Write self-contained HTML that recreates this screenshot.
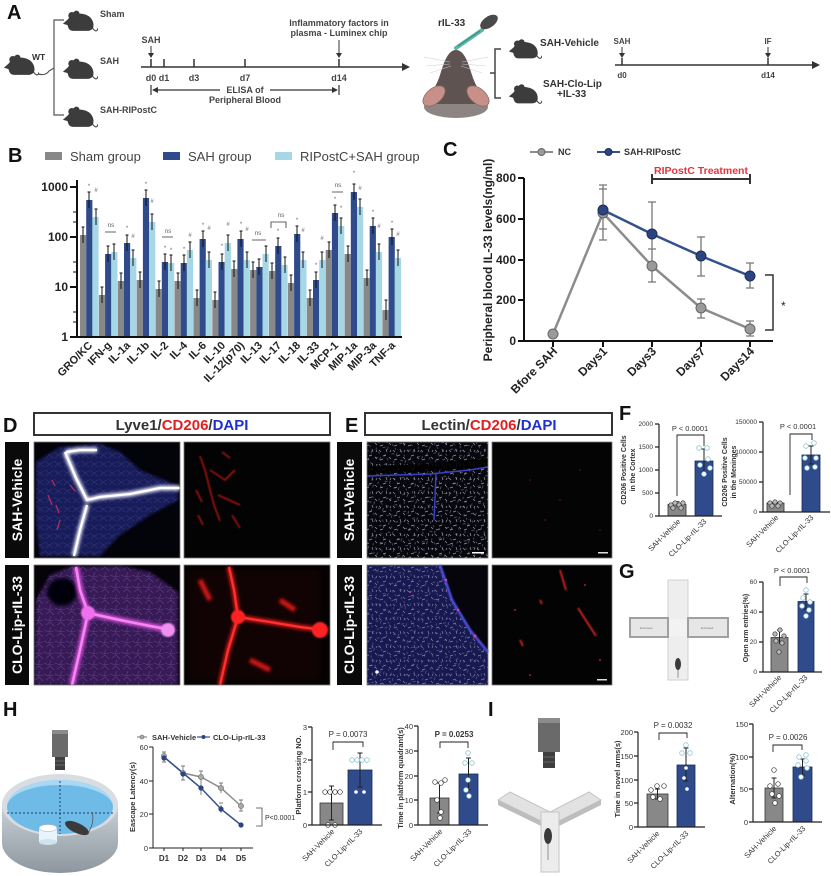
<!DOCTYPE html>
<html><head><meta charset="utf-8">
<style>
html,body{margin:0;padding:0;background:#fff;}
svg{display:block;font-family:"Liberation Sans",Arial,sans-serif;}
</style></head><body>
<svg width="831" height="876" viewBox="0 0 831 876" xmlns="http://www.w3.org/2000/svg">
<defs>
 <symbol id="mouse" viewBox="0 0 40 26">
  <path d="M6,15 C6,7 14,4 22,5 C30,6 35,11 35,18 C35,22 32,24 28,24 L12,24 C8,24 6,20 6,15Z" fill="#3c3c3c"/>
  <circle cx="11" cy="7" r="4" fill="#3c3c3c"/>
  <circle cx="16" cy="5" r="3.5" fill="#3c3c3c"/>
  <path d="M1,16 L9,9 L11,19Z" fill="#3c3c3c"/>
  <path d="M34,21 C37,25 39,25 40,21" stroke="#3c3c3c" fill="none" stroke-width="1.2"/>
 </symbol>
 <filter id="bl1" x="-20%" y="-20%" width="140%" height="140%"><feGaussianBlur stdDeviation="0.7"/></filter>
 <filter id="bl2" x="-50%" y="-50%" width="200%" height="200%"><feGaussianBlur stdDeviation="1.6"/></filter>
 <filter id="bl4" x="-50%" y="-50%" width="200%" height="200%"><feGaussianBlur stdDeviation="4"/></filter>
 <pattern id="spk" width="14" height="14" patternUnits="userSpaceOnUse">
  <path d="M1,2l2,2M8,1l1,3M5,8l3,-1M11,9l2,2M2,12l3,-1M12,4l1,-2" stroke="#c8c8dc" stroke-width="0.7" fill="none"/>
 </pattern>
 <pattern id="spk2" width="11" height="13" patternUnits="userSpaceOnUse" patternTransform="rotate(37)">
  <path d="M2,3l2,1M7,6l1,3M3,10l2,-2M9,1l1,2" stroke="#b8b8d8" stroke-width="0.6" fill="none"/>
 </pattern>
 <pattern id="fib" width="11" height="11" patternUnits="userSpaceOnUse">
  <path d="M0,3l5,2l5,-1M2,9l4,-3l4,4M7,0l-2,5" stroke="#8a70c0" stroke-width="0.6" fill="none"/>
 </pattern>
 <pattern id="fib2" width="9" height="9" patternUnits="userSpaceOnUse">
  <path d="M0,2l4,3l4,-2M1,8l3,-3l4,3" stroke="#5a58b8" stroke-width="0.6" fill="none"/>
 </pattern>
 <linearGradient id="wall" x1="0" y1="0" x2="0" y2="1"><stop offset="0" stop-color="#c9d0d6"/><stop offset="1" stop-color="#8d969e"/></linearGradient>
 <clipPath id="cD1"><rect x="34" y="442" width="146" height="116"/></clipPath>
 <clipPath id="cD2"><rect x="184" y="442" width="146" height="116"/></clipPath>
 <clipPath id="cD3"><rect x="34" y="565" width="146" height="120"/></clipPath>
 <clipPath id="cD4"><rect x="184" y="565" width="146" height="120"/></clipPath>
 <clipPath id="cE1"><rect x="367" y="442" width="121" height="116"/></clipPath>
 <clipPath id="cE2"><rect x="492" y="442" width="120" height="116"/></clipPath>
 <clipPath id="cE3"><polygon points="367,565 440,565 452,600 470,630 488,652 488,685 367,685"/></clipPath>
 <clipPath id="cE4"><rect x="492" y="565" width="120" height="120"/></clipPath>
</defs>

<!-- ================= PANEL A ================= -->
<text x="7" y="19" font-size="20" font-weight="bold" fill="#111">A</text>
<use href="#mouse" x="3" y="52" width="36" height="26"/>
<text x="32" y="60" font-size="8.5" font-weight="bold" fill="#333">WT</text>
<path d="M64,20H54V115H64M38,74Q46,76 49,71L54,68" stroke="#555" fill="none" stroke-width="1.2"/>
<use href="#mouse" x="62" y="9" width="36" height="24"/>
<use href="#mouse" x="62" y="57" width="36" height="24"/>
<use href="#mouse" x="62" y="105" width="36" height="24"/>
<g font-size="9" font-weight="bold" fill="#444">
 <text x="100" y="17">Sham</text>
 <text x="100" y="64">SAH</text>
 <text x="100" y="113">SAH-RIPostC</text>
</g>
<g stroke="#333" stroke-width="1.5" fill="none">
 <path d="M141,67H403"/>
 <path d="M151,59V67M164,59V67M194,59V67M245,59V67M339,59V67"/>
 <path d="M151,46V55M339,40V55" stroke-width="1"/>
 <path d="M151,85V95M339,85V95M156,90H334" stroke-width="1.2"/>
</g>
<polygon points="402,63 410,67 402,71" fill="#333"/>
<polygon points="148,53 151,58 154,53" fill="#333"/>
<polygon points="336,53 339,58 342,53" fill="#333"/>
<polygon points="152,90 158,87 158,93" fill="#333"/>
<polygon points="338,90 332,87 332,93" fill="#333"/>
<rect x="220" y="84" width="50" height="10" fill="#fff"/>
<g font-size="9" font-weight="bold" fill="#444" text-anchor="middle">
 <text x="151" y="43">SAH</text>
 <text x="339" y="26">Inflammatory factors in</text>
 <text x="339" y="36">plasma - Luminex chip</text>
 <text x="151" y="81">d0</text>
 <text x="164" y="81">d1</text>
 <text x="194" y="81">d3</text>
 <text x="245" y="81">d7</text>
 <text x="339" y="81">d14</text>
 <text x="245" y="93">ELISA of</text>
 <text x="245" y="103">Peripheral Blood</text>
</g>
<!-- rIL-33 head -->
<text x="438" y="26" font-size="10" font-weight="bold" fill="#333">rIL-33</text>
<line x1="456" y1="48" x2="482" y2="30" stroke="#5db5aa" stroke-width="4" stroke-linecap="round"/>
<line x1="458" y1="46" x2="480" y2="31" stroke="#2f8c84" stroke-width="1"/>
<ellipse cx="489" cy="22" rx="10" ry="5.5" transform="rotate(-35 489 22)" fill="#4a4a4a"/>
<ellipse cx="456" cy="107" rx="32" ry="11" fill="#8d8581"/>
<path d="M456,50 C448,50 444,62 440,75 C436,88 428,96 430,104 L482,104 C484,96 476,88 472,75 C468,62 464,50 456,50Z" fill="#5e5350"/>
<ellipse cx="434" cy="96" rx="13" ry="7.5" transform="rotate(-40 434 96)" fill="#c7918a" stroke="#8a6a64" stroke-width="0.8"/>
<ellipse cx="478" cy="96" rx="13" ry="7.5" transform="rotate(40 478 96)" fill="#c7918a" stroke="#8a6a64" stroke-width="0.8"/>
<path d="M450,62L424,57M450,64L426,66M451,66L430,73M462,62L488,57M462,64L486,66M461,66L482,73" stroke="#ccc" stroke-width="0.5"/>
<path d="M501,49H495V98H501M495,73H490" stroke="#444" stroke-width="1.5" fill="none"/>
<use href="#mouse" x="508" y="37" width="34" height="24"/>
<use href="#mouse" x="508" y="82" width="34" height="24"/>
<g font-size="10" font-weight="bold" fill="#333">
 <text x="540" y="46">SAH-Vehicle</text>
 <text x="543" y="87">SAH-Clo-Lip</text>
 <text x="557" y="97">+IL-33</text>
</g>
<g stroke="#333" stroke-width="1.5" fill="none">
 <path d="M615,65H813M622,58V65M768,58V65"/>
 <path d="M622,47V55M768,47V55" stroke-width="1"/>
</g>
<polygon points="812,61 820,65 812,69" fill="#333"/>
<polygon points="619,53 622,58 625,53" fill="#333"/>
<polygon points="765,53 768,58 771,53" fill="#333"/>
<g font-size="8" font-weight="bold" fill="#444" text-anchor="middle">
 <text x="622" y="44">SAH</text>
 <text x="768" y="44">IF</text>
 <text x="622" y="78">d0</text>
 <text x="768" y="78">d14</text>
</g>

<!-- ================= PANEL B ================= -->
<text x="8" y="162" font-size="20" font-weight="bold" fill="#111">B</text>
<rect x="45" y="152" width="17" height="8" fill="#888"/>
<rect x="163" y="152" width="17" height="8" fill="#2f4b8b"/>
<rect x="275" y="152" width="17" height="8" fill="#a6d7e6"/>
<g font-size="13" fill="#444">
 <text x="70" y="161">Sham group</text>
 <text x="188" y="161">SAH group</text>
 <text x="300" y="161">RIPostC+SAH group</text>
</g>
<g>
 <g fill="#888">
  <rect x="80" y="235" width="6.2" height="102"/><rect x="98.9" y="295" width="6.2" height="42"/><rect x="117.8" y="281" width="6.2" height="56"/><rect x="136.7" y="280" width="6.2" height="57"/><rect x="155.6" y="289" width="6.2" height="48"/><rect x="174.5" y="281" width="6.2" height="56"/><rect x="193.4" y="298" width="6.2" height="39"/><rect x="212.3" y="300" width="6.2" height="37"/><rect x="231.2" y="269" width="6.2" height="68"/><rect x="250.1" y="270" width="6.2" height="67"/><rect x="269" y="271" width="6.2" height="66"/><rect x="287.9" y="283" width="6.2" height="54"/><rect x="306.8" y="298" width="6.2" height="39"/><rect x="325.7" y="250" width="6.2" height="87"/><rect x="344.6" y="254" width="6.2" height="83"/><rect x="363.5" y="278" width="6.2" height="59"/><rect x="382.4" y="310" width="6.2" height="27"/>
 </g>
 <g fill="#2f4b8b">
  <rect x="86.2" y="200" width="6.2" height="137"/><rect x="105.1" y="254" width="6.2" height="83"/><rect x="124" y="243" width="6.2" height="94"/><rect x="142.9" y="198" width="6.2" height="139"/><rect x="161.8" y="262" width="6.2" height="75"/><rect x="180.7" y="263" width="6.2" height="74"/><rect x="199.6" y="239" width="6.2" height="98"/><rect x="218.5" y="262" width="6.2" height="75"/><rect x="237.4" y="239" width="6.2" height="98"/><rect x="256.3" y="267" width="6.2" height="70"/><rect x="275.2" y="246" width="6.2" height="91"/><rect x="294.1" y="234" width="6.2" height="103"/><rect x="313" y="280" width="6.2" height="57"/><rect x="331.9" y="213" width="6.2" height="124"/><rect x="350.8" y="192" width="6.2" height="145"/><rect x="369.7" y="226" width="6.2" height="111"/><rect x="388.6" y="237" width="6.2" height="100"/>
 </g>
 <g fill="#a6d7e6">
  <rect x="92.4" y="217" width="6.2" height="120"/><rect x="111.3" y="252" width="6.2" height="85"/><rect x="130.2" y="258" width="6.2" height="79"/><rect x="149.1" y="222" width="6.2" height="115"/><rect x="168" y="263" width="6.2" height="74"/><rect x="186.9" y="250" width="6.2" height="87"/><rect x="205.8" y="260" width="6.2" height="77"/><rect x="224.7" y="243" width="6.2" height="94"/><rect x="243.6" y="260" width="6.2" height="77"/><rect x="262.5" y="254" width="6.2" height="83"/><rect x="281.4" y="265" width="6.2" height="72"/><rect x="300.3" y="260" width="6.2" height="77"/><rect x="319.2" y="260" width="6.2" height="77"/><rect x="338.1" y="226" width="6.2" height="111"/><rect x="357" y="207" width="6.2" height="130"/><rect x="375.9" y="252" width="6.2" height="85"/><rect x="394.8" y="258" width="6.2" height="79"/>
 </g>
 <path stroke="#111" stroke-width="1" fill="none" d="
 M83,227V243M81.5,227h3M89,192V208M87.5,192h3M96,209V225M94.5,209h3
 M102,287V303M100.5,287h3M108,246V262M106.5,246h3M114,244V260M112.5,244h3
 M121,273V289M119.5,273h3M127,235V251M125.5,235h3M133,250V266M131.5,250h3
 M140,272V288M138.5,272h3M146,190V206M144.5,190h3M152,214V230M150.5,214h3
 M159,281V297M157.5,281h3M165,254V270M163.5,254h3M171,255V271M169.5,255h3
 M178,273V289M176.5,273h3M184,255V271M182.5,255h3M190,242V258M188.5,242h3
 M197,290V306M195.5,290h3M203,231V247M201.5,231h3M209,252V268M207.5,252h3
 M215,292V308M213.5,292h3M222,254V270M220.5,254h3M228,235V251M226.5,235h3
 M234,261V277M232.5,261h3M241,231V247M239.5,231h3M247,252V268M245.5,252h3
 M253,262V278M251.5,262h3M259,259V275M257.5,259h3M266,246V262M264.5,246h3
 M272,263V279M270.5,263h3M278,238V254M276.5,238h3M285,257V273M283.5,257h3
 M291,275V291M289.5,275h3M297,226V242M295.5,226h3M303,252V268M301.5,252h3
 M310,290V306M308.5,290h3M316,272V288M314.5,272h3M322,252V268M320.5,252h3
 M329,242V258M327.5,242h3M335,205V221M333.5,205h3M341,218V234M339.5,218h3
 M348,246V262M346.5,246h3M354,184V200M352.5,184h3M360,199V215M358.5,199h3
 M367,270V286M365.5,270h3M373,218V234M371.5,218h3M379,244V260M377.5,244h3
 M386,300V320M384.5,300h3M392,229V245M390.5,229h3M398,250V266M396.5,250h3"/>
 <g font-size="6" fill="#666" text-anchor="middle">
  <text x="89" y="188">*</text><text x="96" y="192">#</text><text x="146" y="186">*</text><text x="152" y="203">#</text><text x="127" y="230">*</text><text x="133" y="238">#</text>
  <text x="165" y="250">*</text><text x="171" y="252">*</text><text x="184" y="251">*</text><text x="190" y="237">#</text><text x="203" y="227">*</text><text x="209" y="230">#</text>
  <text x="222" y="248">*</text><text x="228" y="226">#</text><text x="241" y="226">*</text><text x="247" y="231">#</text><text x="278" y="233">*</text><text x="297" y="222">*</text><text x="303" y="232">#</text>
  <text x="316" y="267">*</text><text x="322" y="240">#</text><text x="335" y="201">*</text><text x="341" y="210">*</text><text x="354" y="175">*</text><text x="360" y="190">#</text><text x="373" y="214">*</text><text x="379" y="228">#</text><text x="392" y="225">*</text><text x="398" y="236">#</text>
  <text x="111" y="227" font-size="6.5">ns</text><text x="168" y="233" font-size="6.5">ns</text><text x="258" y="235" font-size="6.5">ns</text><text x="281" y="217" font-size="6.5">ns</text><text x="338" y="187" font-size="6.5">ns</text>
 </g>
 <path d="M105,232H116M162,237H173M252,240H266M271,228V222H286V228M332,192H343" stroke="#333" stroke-width="0.8" fill="none"/>
 <path d="M77,180V337H402M70,187H77M70,237H77M70,287H77M70,337H77" stroke="#111" stroke-width="2" fill="none"/>
 <path d="M73,222H77M73,212H77M73,272H77M73,262H77M73,322H77M73,312H77" stroke="#111" stroke-width="1" fill="none"/>
 <g font-size="12" font-weight="bold" fill="#222" text-anchor="end">
  <text x="68" y="191">1000</text><text x="68" y="241">100</text><text x="68" y="291">10</text><text x="68" y="341">1</text>
 </g>
 <g font-size="11" font-weight="bold" fill="#222" text-anchor="end">
  <text transform="translate(93,346) rotate(-45)">GRO/KC</text>
  <text transform="translate(112,346) rotate(-45)">IFN-g</text>
  <text transform="translate(131,346) rotate(-45)">IL-1a</text>
  <text transform="translate(150,346) rotate(-45)">IL-1b</text>
  <text transform="translate(169,346) rotate(-45)">IL-2</text>
  <text transform="translate(188,346) rotate(-45)">IL-4</text>
  <text transform="translate(207,346) rotate(-45)">IL-6</text>
  <text transform="translate(226,346) rotate(-45)">IL-10</text>
  <text transform="translate(245,346) rotate(-45)">IL-12(p70)</text>
  <text transform="translate(263,346) rotate(-45)">IL-13</text>
  <text transform="translate(282,346) rotate(-45)">IL-17</text>
  <text transform="translate(301,346) rotate(-45)">IL-18</text>
  <text transform="translate(320,346) rotate(-45)">IL-33</text>
  <text transform="translate(339,346) rotate(-45)">MCP-1</text>
  <text transform="translate(358,346) rotate(-45)">MIP-1a</text>
  <text transform="translate(377,346) rotate(-45)">MIP-3a</text>
  <text transform="translate(396,346) rotate(-45)">TNF-a</text>
 </g>
</g>

<!-- ================= PANEL C ================= -->
<text x="443" y="156" font-size="20" font-weight="bold" fill="#111">C</text>
<line x1="530" y1="152" x2="553" y2="152" stroke="#8c8c8c" stroke-width="2"/>
<circle cx="541.5" cy="152" r="3.5" fill="#9a9a9a" stroke="#666"/>
<line x1="597" y1="152" x2="620" y2="152" stroke="#34508e" stroke-width="2"/>
<circle cx="608.5" cy="152" r="3.5" fill="#2c4580" stroke="#1d2f5a"/>
<g font-size="9" font-weight="bold" fill="#333">
 <text x="558" y="155">NC</text><text x="624" y="155">SAH-RIPostC</text>
</g>
<text x="701" y="174" font-size="10.5" font-weight="bold" fill="#e3343a" text-anchor="middle">RIPostC Treatment</text>
<path d="M652,179H750M652,174V184M750,174V184" stroke="#333" stroke-width="2" fill="none"/>
<path d="M765,275H773V330H765" stroke="#333" stroke-width="1.5" fill="none"/>
<text x="781" y="310" font-size="12" fill="#222">*</text>
<path stroke="#777" stroke-width="1.3" fill="none" d="
M603,185V229M599,185h8M599,229h8
M603,189V240M599,189h8M599,240h8
M652,202V266M648,202h8
M652,249V282M648,249h8M648,282h8
M701,237V276M697,237h8M697,276h8
M701,299V318M697,299h8M697,318h8
M750,263V288M746,263h8M746,288h8
M750,321V336M746,321h8M746,336h8"/>
<polyline points="553,334 603,213 652,266 701,308 750,329" fill="none" stroke="#8c8c8c" stroke-width="2.5"/>
<polyline points="603,210 652,234 701,256 750,276" fill="none" stroke="#34508e" stroke-width="2.5"/>
<g fill="#9a9a9a" stroke="#666" stroke-width="1">
 <circle cx="553" cy="334" r="5"/><circle cx="603" cy="213" r="5"/><circle cx="652" cy="266" r="5"/><circle cx="701" cy="308" r="5"/><circle cx="750" cy="329" r="5"/>
</g>
<g fill="#2c4580" stroke="#1d2f5a" stroke-width="1">
 <circle cx="603" cy="210" r="5"/><circle cx="652" cy="234" r="5"/><circle cx="701" cy="256" r="5"/><circle cx="750" cy="276" r="5"/>
</g>
<path d="M524,178V341H773M518,178H524M518,219H524M518,260H524M518,300H524M518,341H524M553,341V347M603,341V347M652,341V347M701,341V347M750,341V347" stroke="#111" stroke-width="2" fill="none"/>
<g font-size="12" font-weight="bold" fill="#222" text-anchor="end">
 <text x="516" y="182">800</text><text x="516" y="223">600</text><text x="516" y="264">400</text><text x="516" y="304">200</text><text x="516" y="345">0</text>
 <text transform="translate(558,352) rotate(-45)">Bfore SAH</text>
 <text transform="translate(608,352) rotate(-45)">Days1</text>
 <text transform="translate(657,352) rotate(-45)">Days3</text>
 <text transform="translate(706,352) rotate(-45)">Days7</text>
 <text transform="translate(755,352) rotate(-45)">Days14</text>
</g>
<text transform="translate(492,260) rotate(-90)" font-size="12" font-weight="bold" fill="#222" text-anchor="middle">Peripheral blood IL-33 levels(ng/ml)</text>

<!-- ================= PANEL D ================= -->
<text x="3" y="432" font-size="20" font-weight="bold" fill="#111">D</text>
<rect x="34" y="413" width="296" height="22" fill="#fff" stroke="#333" stroke-width="2"/>
<text x="182" y="430" font-size="15" font-weight="bold" text-anchor="middle" fill="#333">Lyve1/<tspan fill="#e02020">CD206</tspan>/<tspan fill="#2030d0">DAPI</tspan></text>
<rect x="5" y="442" width="24" height="116" fill="#0a0a0a"/>
<rect x="5" y="565" width="24" height="120" fill="#0a0a0a"/>
<text transform="translate(22,500) rotate(-90)" font-size="14" font-weight="bold" fill="#fff" text-anchor="middle">SAH-Vehicle</text>
<text transform="translate(22,625) rotate(-90)" font-size="14" font-weight="bold" fill="#fff" text-anchor="middle">CLO-Lip-rIL-33</text>
<!-- D1 -->
<g clip-path="url(#cD1)">
 <rect x="34" y="442" width="146" height="116" fill="#03030a"/>
 <polygon points="36,462 60,447 100,444 120,452 140,470 178,486 178,500 150,515 120,535 100,556 40,556 36,520" fill="#1a2068" opacity="0.85" filter="url(#bl2)"/>
 <polygon points="36,462 60,447 100,444 120,452 140,470 178,486 178,500 150,515 120,535 100,556 40,556 36,520" fill="url(#fib2)" opacity="0.35"/>
 <path d="M65,452L76,478L87,500L100,497L130,494L160,488L180,488M87,505L80,530L74,556M66,452L80,450L97,450" stroke="#e8e8f8" stroke-width="5" fill="none" filter="url(#bl2)"/>
 <path d="M65,452L76,478L87,500L100,497L130,494L160,488L180,488M87,505L80,530L74,556M66,452L80,450L97,450" stroke="#ffffff" stroke-width="2.2" fill="none"/>
 <path d="M48,495l4,10M56,505l3,8M60,520l-3,10M70,485l5,6M52,480l3,6" stroke="#e03060" stroke-width="1.3" opacity="0.8"/>
</g>
<rect x="34" y="442" width="146" height="116" fill="none" stroke="#777" stroke-width="0.8"/>
<!-- D2 -->
<g clip-path="url(#cD2)">
 <rect x="184" y="442" width="146" height="116" fill="#040303"/>
 <path d="M200,456L205,470L210,490L214,505L220,521M210,470L225,480L235,470M218,495L240,505M232,515L240,528M196,490l6,12M222,452l8,6M198,515l5,10" stroke="#c41818" stroke-width="1.6" fill="none" filter="url(#bl1)" opacity="0.85"/>
</g>
<rect x="184" y="442" width="146" height="116" fill="none" stroke="#777" stroke-width="0.8"/>
<!-- D3 -->
<g clip-path="url(#cD3)">
 <rect x="34" y="565" width="146" height="120" fill="#050308"/>
 <polygon points="36,600 50,575 70,567 120,566 150,572 178,592 178,685 34,685" fill="#3a1c5c" opacity="0.95" filter="url(#bl2)"/>
 <polygon points="36,600 50,575 70,567 120,566 150,572 178,592 178,685 34,685" fill="url(#fib)" opacity="0.45"/>
 <ellipse cx="62" cy="592" rx="15" ry="14" fill="#050308" filter="url(#bl2)"/>
 <path d="M76,567L80,590L88,613L80,650L72,685M88,613L120,620L150,626L172,630" stroke="#d848d8" stroke-width="6" fill="none" filter="url(#bl2)"/>
 <path d="M76,567L80,590L88,613L80,650L72,685M88,613L120,620L150,626L172,630" stroke="#f08af0" stroke-width="2.5" fill="none"/>
 <circle cx="88" cy="613" r="7" fill="#f070f0" filter="url(#bl1)"/>
 <circle cx="168" cy="630" r="7" fill="#f090f0" filter="url(#bl1)"/>
</g>
<rect x="34" y="565" width="146" height="120" fill="none" stroke="#777" stroke-width="0.8"/>
<!-- D4 -->
<g clip-path="url(#cD4)">
 <rect x="184" y="565" width="146" height="120" fill="#050202"/>
 <rect x="190" y="570" width="130" height="110" fill="#5a0808" opacity="0.15" filter="url(#bl4)"/>
 <path d="M229,567L234,590L238,617L228,650L220,685M238,617L270,622L300,627L323,630M200,580l10,20M280,600l15,10M250,660l20,10" stroke="#d81818" stroke-width="5" fill="none" filter="url(#bl2)"/>
 <path d="M229,567L234,590L238,617L228,650L220,685M238,617L270,622L300,627L323,630" stroke="#ff3030" stroke-width="2.2" fill="none"/>
 <circle cx="238" cy="617" r="7" fill="#ff2424" filter="url(#bl1)"/>
 <circle cx="320" cy="630" r="8" fill="#ff2424" filter="url(#bl1)"/>
</g>
<rect x="184" y="565" width="146" height="120" fill="none" stroke="#777" stroke-width="0.8"/>

<!-- ================= PANEL E ================= -->
<text x="345" y="432" font-size="20" font-weight="bold" fill="#111">E</text>
<rect x="365" y="413" width="247" height="22" fill="#fff" stroke="#333" stroke-width="2"/>
<text x="489" y="430" font-size="15" font-weight="bold" text-anchor="middle" fill="#333">Lectin/<tspan fill="#e02020">CD206</tspan>/<tspan fill="#2030d0">DAPI</tspan></text>
<rect x="337" y="442" width="25" height="116" fill="#0a0a0a"/>
<rect x="337" y="565" width="25" height="120" fill="#0a0a0a"/>
<text transform="translate(354,500) rotate(-90)" font-size="14" font-weight="bold" fill="#fff" text-anchor="middle">SAH-Vehicle</text>
<text transform="translate(354,625) rotate(-90)" font-size="14" font-weight="bold" fill="#fff" text-anchor="middle">CLO-Lip-rIL-33</text>
<!-- E1 -->
<g clip-path="url(#cE1)">
 <rect x="367" y="442" width="121" height="116" fill="#07070e"/>
 <rect x="367" y="442" width="121" height="116" fill="url(#spk)" opacity="0.75"/>
 <rect x="367" y="442" width="121" height="116" fill="url(#spk2)" opacity="0.6"/>
 <path d="M367,470L420,468L470,464L488,462" stroke="#000" stroke-width="8" opacity="0.85"/>
 <path d="M367,476L430,474L470,470L488,467M436,474L434,520" stroke="#3a40c8" stroke-width="1.5" fill="none"/>
 <rect x="472" y="552" width="12" height="1.5" fill="#fff"/>
</g>
<rect x="367" y="442" width="121" height="116" fill="none" stroke="#777" stroke-width="0.8"/>
<!-- E2 -->
<g clip-path="url(#cE2)">
 <rect x="492" y="442" width="120" height="116" fill="#040404"/>
 <g fill="#a01818" opacity="0.7"><circle cx="530" cy="480" r="0.8"/><circle cx="560" cy="500" r="0.8"/><circle cx="545" cy="520" r="0.8"/><circle cx="580" cy="470" r="0.8"/><circle cx="600" cy="530" r="0.8"/></g>
 <rect x="598" y="552" width="10" height="1.5" fill="#ddd"/>
</g>
<rect x="492" y="442" width="120" height="116" fill="none" stroke="#777" stroke-width="0.8"/>
<!-- E3 -->
<rect x="367" y="565" width="121" height="120" fill="#05050b"/>
<g clip-path="url(#cE3)">
 <rect x="367" y="565" width="121" height="120" fill="#1a1c58" opacity="0.9"/>
 <rect x="367" y="565" width="121" height="120" fill="url(#spk)" opacity="0.6"/>
 <rect x="367" y="565" width="121" height="120" fill="url(#spk2)" opacity="0.5"/>
</g>
<path d="M440,565L452,600L470,630L488,652" stroke="#5050e8" stroke-width="2.5" fill="none" filter="url(#bl1)"/>
<g fill="#e040a0"><circle cx="446" cy="580" r="1.2"/><circle cx="458" cy="610" r="1.2"/><circle cx="475" cy="636" r="1.5"/><circle cx="410" cy="592" r="1"/></g>
<circle cx="377" cy="672" r="1.8" fill="#fff"/>
<rect x="367" y="565" width="121" height="120" fill="none" stroke="#777" stroke-width="0.8"/>
<!-- E4 -->
<g clip-path="url(#cE4)">
 <rect x="492" y="565" width="120" height="120" fill="#040303"/>
 <path d="M560,570L566,590M578,608L596,636M520,640l3,6M540,600l2,4" stroke="#d82020" stroke-width="1.8" fill="none" filter="url(#bl1)"/>
 <g fill="#c01818"><circle cx="515" cy="610" r="1"/><circle cx="600" cy="660" r="1"/><circle cx="530" cy="675" r="1"/><circle cx="585" cy="585" r="1"/></g>
 <rect x="597" y="679" width="10" height="1.5" fill="#ddd"/>
</g>
<rect x="492" y="565" width="120" height="120" fill="none" stroke="#777" stroke-width="0.8"/>

<!-- ================= PANEL F ================= -->
<text x="619" y="420" font-size="20" font-weight="bold" fill="#111">F</text>
<rect x="668" y="504.5" width="18" height="11.5" fill="#888" stroke="#333" stroke-width="0.8"/>
<rect x="695" y="461" width="18" height="55" fill="#2f4b8b" stroke="#1a2a55" stroke-width="0.8"/>
<path d="M677,501.7V507.3M674.5,501.7h5M704,449V472M701.5,449h5M701.5,472h5" stroke="#222" stroke-width="1"/>
<g fill="#bbb" stroke="#333" stroke-width="0.7"><circle cx="671" cy="505" r="2.2"/><circle cx="675" cy="503" r="2.2"/><circle cx="679" cy="505" r="2.2"/><circle cx="683" cy="503" r="2.2"/><circle cx="673" cy="508" r="2.2"/><circle cx="681" cy="508" r="2.2"/></g>
<g fill="#fff" stroke="#8cc4d8" stroke-width="0.8"><circle cx="699" cy="448" r="2.3"/><circle cx="707" cy="448" r="2.3"/><circle cx="700" cy="465" r="2.3"/><circle cx="710" cy="468" r="2.3"/><circle cx="704" cy="474" r="2.3"/><circle cx="708" cy="459" r="2.3"/></g>
<path d="M677,496V435H704V446" stroke="#222" stroke-width="0.9" fill="none"/>
<text x="690" y="431" font-size="7.5" fill="#333" text-anchor="middle">P &lt; 0.0001</text>
<path d="M659,424V516H722M655,424H659M655,447H659M655,470H659M655,493H659M655,516H659" stroke="#222" stroke-width="1.2" fill="none"/>
<g font-size="6.5" fill="#333" text-anchor="end"><text x="653" y="426">2000</text><text x="653" y="449">1500</text><text x="653" y="472">1000</text><text x="653" y="495">500</text><text x="653" y="518">0</text></g>
<text transform="translate(626,470) rotate(-90)" font-size="7" font-weight="bold" fill="#333" text-anchor="middle">CD206 Positive Cells</text>
<text transform="translate(635,470) rotate(-90)" font-size="7" font-weight="bold" fill="#333" text-anchor="middle">in the Cortex</text>
<g font-size="7.5" fill="#333" text-anchor="end">
 <text transform="translate(681,522) rotate(-45)">SAH-Vehicle</text>
 <text transform="translate(707,522) rotate(-45)">CLO-Lip-rIL-33</text>
</g>
<rect x="767" y="503" width="17" height="9" fill="#888" stroke="#333" stroke-width="0.8"/>
<rect x="802" y="455" width="18" height="57" fill="#2f4b8b" stroke="#1a2a55" stroke-width="0.8"/>
<path d="M811,446V464M808.5,446h5M808.5,464h5" stroke="#222" stroke-width="1"/>
<g fill="#bbb" stroke="#333" stroke-width="0.7"><circle cx="770" cy="503" r="2.2"/><circle cx="775" cy="502" r="2.2"/><circle cx="780" cy="503" r="2.2"/><circle cx="772" cy="506" r="2.2"/><circle cx="778" cy="506" r="2.2"/></g>
<g fill="#fff" stroke="#8cc4d8" stroke-width="0.8"><circle cx="806" cy="446" r="2.3"/><circle cx="814" cy="443" r="2.3"/><circle cx="805" cy="458" r="2.3"/><circle cx="816" cy="458" r="2.3"/><circle cx="807" cy="468" r="2.3"/><circle cx="815" cy="467" r="2.3"/></g>
<path d="M790,495V434H812V440" stroke="#222" stroke-width="0.9" fill="none"/>
<text x="798" y="429" font-size="7.5" fill="#333" text-anchor="middle">P &lt; 0.0001</text>
<path d="M763,422V512H830M759,422H763M759,452H763M759,482H763M759,512H763" stroke="#222" stroke-width="1.2" fill="none"/>
<g font-size="6.5" fill="#333" text-anchor="end"><text x="757" y="424">150000</text><text x="757" y="454">100000</text><text x="757" y="484">50000</text><text x="757" y="514">0</text></g>
<text transform="translate(727,472) rotate(-90)" font-size="7" font-weight="bold" fill="#333" text-anchor="middle">CD206 Positive Cells</text>
<text transform="translate(736,472) rotate(-90)" font-size="7" font-weight="bold" fill="#333" text-anchor="middle">in the Meninges</text>
<g font-size="7.5" fill="#333" text-anchor="end">
 <text transform="translate(779,518) rotate(-45)">SAH-Vehicle</text>
 <text transform="translate(814,518) rotate(-45)">CLO-Lip-rIL-33</text>
</g>

<!-- ================= PANEL G ================= -->
<text x="619" y="578" font-size="20" font-weight="bold" fill="#111">G</text>
<rect x="668" y="580" width="20" height="100" fill="#eeeeee" stroke="#d0d0d0" stroke-width="1"/>
<rect x="630" y="618" width="38" height="19" fill="#e6e6e6" stroke="#a0a0a0" stroke-width="2"/>
<rect x="688" y="618" width="40" height="19" fill="#e6e6e6" stroke="#a0a0a0" stroke-width="2"/>
<rect x="669" y="619" width="18" height="17" fill="#f2f2f2"/>
<g font-size="3" fill="#777"><text x="640" y="629">Enclosed</text><text x="701" y="629">Enclosed</text></g>
<ellipse cx="678" cy="664" rx="3" ry="6" fill="#3a3a3a"/>
<path d="M678,670V678" stroke="#555" stroke-width="0.6"/>
<rect x="771" y="637.5" width="17" height="34.5" fill="#888" stroke="#333" stroke-width="0.8"/>
<rect x="798" y="601.5" width="16" height="70.5" fill="#2f4b8b" stroke="#1a2a55" stroke-width="0.8"/>
<path d="M779.5,630V644M777,630h5M806,594V609M803.5,594h5M803.5,609h5" stroke="#222" stroke-width="1"/>
<g fill="#bbb" stroke="#333" stroke-width="0.7"><circle cx="775" cy="634" r="2.2"/><circle cx="780" cy="630" r="2.2"/><circle cx="784" cy="636" r="2.2"/><circle cx="776" cy="641" r="2.2"/><circle cx="782" cy="643" r="2.2"/><circle cx="779" cy="652" r="2.2"/></g>
<g fill="#fff" stroke="#8cc4d8" stroke-width="0.8"><circle cx="806" cy="590" r="2.3"/><circle cx="803" cy="598" r="2.3"/><circle cx="810" cy="602" r="2.3"/><circle cx="802" cy="606" r="2.3"/><circle cx="809" cy="610" r="2.3"/><circle cx="806" cy="616" r="2.3"/></g>
<path d="M780,586V577H807V583" stroke="#222" stroke-width="0.9" fill="none"/>
<text x="792" y="573" font-size="7.5" fill="#333" text-anchor="middle">P &lt; 0.0001</text>
<path d="M763,582V672H822M759,582H763M759,612H763M759,642H763M759,672H763" stroke="#222" stroke-width="1.2" fill="none"/>
<g font-size="6.5" fill="#333" text-anchor="end"><text x="757" y="584">60</text><text x="757" y="614">40</text><text x="757" y="644">20</text><text x="757" y="674">0</text></g>
<text transform="translate(748,628) rotate(-90)" font-size="7" font-weight="bold" fill="#333" text-anchor="middle">Open arm entries(%)</text>
<g font-size="7.5" fill="#333" text-anchor="end">
 <text transform="translate(782,678) rotate(-45)">SAH-Vehicle</text>
 <text transform="translate(808,678) rotate(-45)">CLO-Lip-rIL-33</text>
</g>

<!-- ================= PANEL H ================= -->
<text x="3" y="716" font-size="20" font-weight="bold" fill="#111">H</text>
<rect x="52" y="730" width="16" height="27" fill="#6a6a6a"/>
<rect x="52" y="730" width="16" height="4" fill="#8a8a8a"/>
<rect x="55" y="757" width="10" height="13" fill="#3e3e3e"/>
<path d="M55,761H65M55,765H65" stroke="#777" stroke-width="0.8"/>
<path d="M2,806V843A58,30 0 0 0 118,843V806Z" fill="url(#wall)"/>
<ellipse cx="60" cy="805" rx="58" ry="31" fill="#d7dde3"/>
<ellipse cx="60" cy="807" rx="53" ry="27" fill="#6fbbe8"/>
<path d="M7,807A53,27 0 0 1 113,807A53,22 0 0 0 7,807Z" fill="#a8d8f3"/>
<path d="M60,781V834" stroke="#1a3d6b" stroke-width="1" stroke-dasharray="2,2"/>
<path d="M7,813H113" stroke="#1a3d6b" stroke-width="1" stroke-dasharray="2,2"/>
<rect x="39" y="828" width="18" height="14" fill="#e8f4fb"/>
<ellipse cx="48" cy="842" rx="9" ry="3" fill="#cfe3ee"/>
<ellipse cx="48" cy="828" rx="9" ry="3.5" fill="#ffffff" stroke="#aac" stroke-width="0.5"/>
<ellipse cx="77" cy="828" rx="13" ry="5" transform="rotate(25 77 828)" fill="#3a3a3a"/>
<path d="M88,833Q95,822 92,812" stroke="#555" stroke-width="0.8" fill="none"/>
<line x1="137" y1="737" x2="147" y2="737" stroke="#8c8c8c" stroke-width="1.2"/><circle cx="142" cy="737" r="2" fill="#aaa" stroke="#666" stroke-width="0.6"/>
<line x1="197" y1="737" x2="210" y2="737" stroke="#34508e" stroke-width="1.2"/><circle cx="203.5" cy="737" r="2" fill="#2c4580"/>
<g font-size="7.5" font-weight="bold" fill="#333"><text x="152" y="740">SAH-Vehicle</text><text x="213" y="740">CLO-Lip-rIL-33</text></g>
<path stroke="#777" stroke-width="0.9" fill="none" d="M164,752V762M183,766V780M201,771V783M221,783V793M241,800V811M162,752h4M162,762h4M181,766h4M181,780h4M199,771h4M219,783h4M239,800h4M239,811h4M201,781V795M219,803h4M221,805V813"/>
<polyline points="164,757 183,773 201,777 221,788 241,806" fill="none" stroke="#8c8c8c" stroke-width="1.5"/>
<polyline points="164,757 183,773 201,788 221,809 241,825" fill="none" stroke="#34508e" stroke-width="1.5"/>
<g fill="#aaa" stroke="#666" stroke-width="0.6"><circle cx="164" cy="756" r="2.6"/><circle cx="183" cy="773" r="2.6"/><circle cx="201" cy="777" r="2.6"/><circle cx="221" cy="788" r="2.6"/><circle cx="241" cy="806" r="2.6"/></g>
<g fill="#2c4580"><circle cx="164" cy="758" r="2.6"/><circle cx="183" cy="774" r="2.6"/><circle cx="201" cy="788" r="2.6"/><circle cx="221" cy="809" r="2.6"/><circle cx="241" cy="825" r="2.6"/></g>
<path d="M256,808H262V826H256" stroke="#444" stroke-width="0.8" fill="none"/>
<text x="265" y="820" font-size="7" fill="#333">P&lt;0.0001</text>
<path d="M153,747V848H253M149,747H153M149,781H153M149,814H153M149,848H153M164,848V851M183,848V851M201,848V851M221,848V851M241,848V851" stroke="#222" stroke-width="1" fill="none"/>
<g font-size="7.5" fill="#333" text-anchor="end"><text x="148" y="750">60</text><text x="148" y="784">40</text><text x="148" y="817">20</text><text x="148" y="851">0</text></g>
<g font-size="8" font-weight="bold" fill="#333" text-anchor="middle"><text x="164" y="861">D1</text><text x="183" y="861">D2</text><text x="201" y="861">D3</text><text x="221" y="861">D4</text><text x="241" y="861">D5</text></g>
<text transform="translate(135,797) rotate(-90)" font-size="7.5" font-weight="bold" fill="#333" text-anchor="middle">Eascape Latency(s)</text>
<rect x="320" y="803" width="23" height="22" fill="#888" stroke="#333" stroke-width="0.8"/>
<rect x="348" y="770" width="24" height="55" fill="#2f4b8b" stroke="#1a2a55" stroke-width="0.8"/>
<path d="M331.5,786V820M329,786h5M329,820h5M360,753V787M357.5,753h5M357.5,787h5" stroke="#222" stroke-width="1"/>
<g fill="#fff" stroke="#333" stroke-width="0.7"><circle cx="325" cy="792" r="2.3"/><circle cx="330" cy="792" r="2.3"/><circle cx="335" cy="792" r="2.3"/><circle cx="340" cy="792" r="2.3"/><circle cx="328" cy="825" r="2.3"/><circle cx="335" cy="825" r="2.3"/></g>
<g fill="#fff" stroke="#8cc4d8" stroke-width="0.8"><circle cx="352" cy="760" r="2.3"/><circle cx="357" cy="760" r="2.3"/><circle cx="362" cy="760" r="2.3"/><circle cx="367" cy="760" r="2.3"/></g>
<g fill="#fff"><circle cx="356" cy="792" r="1.8"/><circle cx="364" cy="792" r="1.8"/></g>
<path d="M333,750V742H363V747" stroke="#222" stroke-width="0.9" fill="none"/>
<text x="348" y="737" font-size="8" fill="#333" text-anchor="middle">P = 0.0073</text>
<path d="M312,727V825H382M308,727H312M308,760H312M308,792H312M308,825H312" stroke="#222" stroke-width="1.2" fill="none"/>
<g font-size="7.5" fill="#333" text-anchor="end"><text x="307" y="730">3</text><text x="307" y="763">2</text><text x="307" y="795">1</text><text x="307" y="828">0</text></g>
<text transform="translate(301,775) rotate(-90)" font-size="7.5" font-weight="bold" fill="#333" text-anchor="middle">Platform crossing NO.</text>
<g font-size="7.5" fill="#333" text-anchor="end">
 <text transform="translate(335,832) rotate(-45)">SAH-Vehicle</text>
 <text transform="translate(363,832) rotate(-45)">CLO-Lip-rIL-33</text>
</g>
<rect x="430" y="798" width="19" height="27" fill="#888" stroke="#333" stroke-width="0.8"/>
<rect x="459" y="774" width="19" height="51" fill="#2f4b8b" stroke="#1a2a55" stroke-width="0.8"/>
<path d="M439.5,783V813M437,783h5M437,813h5M468.5,758V790M466,758h5M466,790h5" stroke="#222" stroke-width="1"/>
<g fill="#fff" stroke="#333" stroke-width="0.7"><circle cx="435" cy="782" r="2.3"/><circle cx="441" cy="783" r="2.3"/><circle cx="445" cy="780" r="2.3"/><circle cx="437" cy="800" r="2.3"/><circle cx="441" cy="812" r="2.3"/><circle cx="440" cy="818" r="2.3"/></g>
<g fill="#fff" stroke="#8cc4d8" stroke-width="0.8"><circle cx="468" cy="753" r="2.3"/><circle cx="465" cy="763" r="2.3"/><circle cx="472" cy="763" r="2.3"/><circle cx="468" cy="780" r="2.3"/><circle cx="466" cy="790" r="2.3"/><circle cx="469" cy="796" r="2.3"/></g>
<path d="M440,748V742H468V748" stroke="#222" stroke-width="0.9" fill="none"/>
<text x="454" y="737" font-size="8" font-weight="bold" fill="#333" text-anchor="middle">P = 0.0253</text>
<path d="M418,726V825H488M414,726H418M414,751H418M414,776H418M414,800H418M414,825H418" stroke="#222" stroke-width="1.2" fill="none"/>
<g font-size="7.5" fill="#333" text-anchor="end"><text x="413" y="729">40</text><text x="413" y="754">30</text><text x="413" y="779">20</text><text x="413" y="803">10</text><text x="413" y="828">0</text></g>
<text transform="translate(403,778) rotate(-90)" font-size="7.5" font-weight="bold" fill="#333" text-anchor="middle">Time in platform quadrant(s)</text>
<g font-size="7.5" fill="#333" text-anchor="end">
 <text transform="translate(443,832) rotate(-45)">SAH-Vehicle</text>
 <text transform="translate(472,832) rotate(-45)">CLO-Lip-rIL-33</text>
</g>

<!-- ================= PANEL I ================= -->
<text x="488" y="716" font-size="20" font-weight="bold" fill="#111">I</text>
<rect x="538" y="718" width="22" height="34" fill="#6a6a6a"/>
<rect x="538" y="718" width="22" height="5" fill="#8c8c8c"/>
<rect x="543" y="752" width="12" height="16" fill="#3e3e3e"/>
<path d="M543,757H555M543,762H555" stroke="#777" stroke-width="0.8"/>
<polygon points="498,800 510,792 550,812 541,821" fill="#e2e2e2" stroke="#c4c4c4" stroke-width="1"/>
<polygon points="601,800 589,792 550,812 559,821" fill="#e2e2e2" stroke="#c4c4c4" stroke-width="1"/>
<polygon points="498,800 541,821 541,826 498,805" fill="#bdbdbd"/>
<polygon points="601,800 559,821 559,826 601,805" fill="#bdbdbd"/>
<rect x="541" y="812" width="18" height="60" fill="#ececec" stroke="#c4c4c4" stroke-width="1"/>
<ellipse cx="548" cy="836" rx="4" ry="8" fill="#3a3a3a"/>
<path d="M548,844V860" stroke="#555" stroke-width="0.6"/>
<rect x="647" y="794" width="21" height="33" fill="#888" stroke="#333" stroke-width="0.8"/>
<rect x="677" y="765" width="18" height="62" fill="#2f4b8b" stroke="#1a2a55" stroke-width="0.8"/>
<path d="M657.5,789V799M655,789h5M655,799h5M686,748V781M683.5,748h5M683.5,781h5" stroke="#222" stroke-width="1"/>
<g fill="#fff" stroke="#333" stroke-width="0.7"><circle cx="651" cy="790" r="2.3"/><circle cx="657" cy="786" r="2.3"/><circle cx="664" cy="786" r="2.3"/><circle cx="653" cy="797" r="2.3"/><circle cx="660" cy="799" r="2.3"/></g>
<g fill="#fff" stroke="#8cc4d8" stroke-width="0.8"><circle cx="686" cy="745" r="2.3"/><circle cx="682" cy="753" r="2.3"/><circle cx="690" cy="753" r="2.3"/></g>
<g fill="#fff"><circle cx="686" cy="768" r="1.8"/><circle cx="684" cy="778" r="1.8"/><circle cx="687" cy="789" r="1.8"/></g>
<path d="M659,740V733H687V738" stroke="#222" stroke-width="0.9" fill="none"/>
<text x="673" y="728" font-size="8" fill="#333" text-anchor="middle">P = 0.0032</text>
<path d="M638,732V827H705M634,732H638M634,756H638M634,780H638M634,803H638M634,827H638" stroke="#222" stroke-width="1.2" fill="none"/>
<g font-size="7.5" fill="#333" text-anchor="end"><text x="633" y="735">200</text><text x="633" y="759">150</text><text x="633" y="783">100</text><text x="633" y="806">50</text><text x="633" y="830">0</text></g>
<text transform="translate(620,779) rotate(-90)" font-size="7.5" font-weight="bold" fill="#333" text-anchor="middle">Time in novel arms(s)</text>
<g font-size="7.5" fill="#333" text-anchor="end">
 <text transform="translate(660,834) rotate(-45)">SAH-Vehicle</text>
 <text transform="translate(689,834) rotate(-45)">CLO-Lip-rIL-33</text>
</g>
<rect x="765" y="788" width="18" height="34" fill="#888" stroke="#333" stroke-width="0.8"/>
<rect x="793" y="767" width="19" height="55" fill="#2f4b8b" stroke="#1a2a55" stroke-width="0.8"/>
<path d="M774,778V798M771.5,778h5M771.5,798h5M802.5,759V775M800,759h5M800,775h5" stroke="#222" stroke-width="1"/>
<g fill="#fff" stroke="#333" stroke-width="0.7"><circle cx="774" cy="770" r="2.3"/><circle cx="770" cy="786" r="2.3"/><circle cx="778" cy="784" r="2.3"/><circle cx="772" cy="794" r="2.3"/><circle cx="779" cy="796" r="2.3"/><circle cx="775" cy="803" r="2.3"/></g>
<g fill="#fff" stroke="#8cc4d8" stroke-width="0.8"><circle cx="799" cy="757" r="2.3"/><circle cx="806" cy="755" r="2.3"/><circle cx="806" cy="761" r="2.3"/><circle cx="798" cy="765" r="2.3"/><circle cx="807" cy="768" r="2.3"/><circle cx="801" cy="777" r="2.3"/></g>
<path d="M773,752V745H802V750" stroke="#222" stroke-width="0.9" fill="none"/>
<text x="788" y="740" font-size="8" fill="#333" text-anchor="middle">P = 0.0026</text>
<path d="M753,724V822H822M749,724H753M749,757H753M749,789H753M749,822H753" stroke="#222" stroke-width="1.2" fill="none"/>
<g font-size="7.5" fill="#333" text-anchor="end"><text x="748" y="727">150</text><text x="748" y="760">100</text><text x="748" y="792">50</text><text x="748" y="825">0</text></g>
<text transform="translate(735,779) rotate(-90)" font-size="7.5" font-weight="bold" fill="#333" text-anchor="middle">Alternation(%)</text>
<g font-size="7.5" fill="#333" text-anchor="end">
 <text transform="translate(777,829) rotate(-45)">SAH-Vehicle</text>
 <text transform="translate(806,829) rotate(-45)">CLO-Lip-rIL-33</text>
</g>
</svg>
</body></html>
